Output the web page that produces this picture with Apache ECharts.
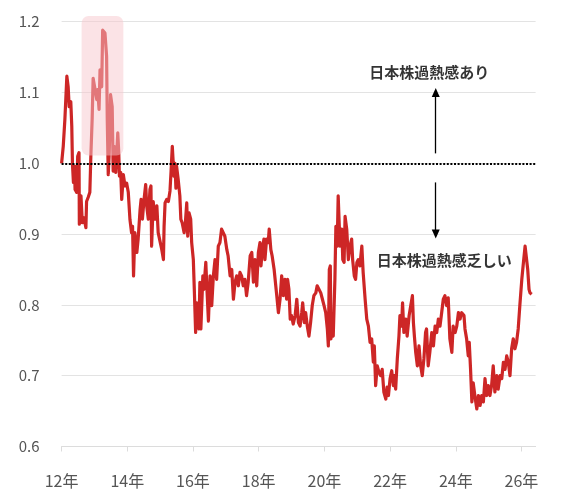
<!DOCTYPE html>
<html>
<head>
<meta charset="utf-8">
<script src="https://cdn.jsdelivr.net/npm/echarts@6/dist/echarts.min.js"></script>
<style>html,body{margin:0;padding:0;background:#fff}#c{width:562px;height:495px}</style>
</head>
<body>
<div id="c"></div>
<script>
// decimal year positions of observations
const years = [
2012.00,2012.05,2012.10,2012.16,2012.20,2012.23,2012.28,2012.31,2012.33,2012.36,2012.39,2012.41,2012.46,2012.49,2012.53,2012.54,2012.59,2012.63,2012.68,2012.71,2012.74,2012.76,2012.81,2012.86,2012.89,2012.93,2012.96,
2013.02,2013.07,2013.10,2013.14,2013.17,2013.22,2013.25,2013.32,2013.37,2013.39,2013.42,2013.45,2013.49,2013.54,2013.57,2013.60,2013.65,2013.71,2013.74,2013.76,2013.80,2013.83,2013.88,2013.93,2013.98,
2014.03,2014.08,2014.13,2014.16,2014.19,2014.23,2014.29,2014.33,2014.39,2014.42,2014.46,2014.51,2014.56,2014.59,2014.64,2014.69,2014.72,2014.74,2014.79,2014.84,2014.90,2014.94,
2015.00,2015.05,2015.10,2015.12,2015.15,2015.20,2015.25,2015.30,2015.33,2015.37,2015.40,2015.42,2015.45,2015.48,2015.50,2015.55,2015.60,2015.63,2015.67,2015.73,2015.76,2015.81,2015.84,2015.88,2015.93,2015.96,
2016.01,2016.04,2016.08,2016.11,2016.14,2016.18,2016.21,2016.24,2016.30,2016.33,2016.39,2016.42,2016.47,2016.52,2016.57,2016.62,2016.67,2016.72,2016.77,2016.82,2016.87,2016.92,2016.97,
2017.03,2017.07,2017.13,2017.18,2017.23,2017.28,2017.33,2017.38,2017.43,2017.48,2017.53,2017.58,2017.63,2017.68,2017.74,2017.79,2017.84,2017.89,2017.94,2017.99,
2018.04,2018.07,2018.11,2018.16,2018.19,2018.24,2018.29,2018.32,2018.37,2018.41,2018.47,2018.52,2018.55,2018.60,2018.65,2018.70,2018.75,2018.80,2018.85,2018.88,2018.92,2018.96,
2019.00,2019.05,2019.11,2019.16,2019.21,2019.26,2019.31,2019.34,2019.39,2019.43,2019.48,2019.53,2019.58,2019.63,2019.68,2019.74,2019.78,2019.84,2019.89,2019.94,2019.99,
2020.04,2020.09,2020.12,2020.15,2020.18,2020.20,2020.23,2020.27,2020.32,2020.35,2020.39,2020.42,2020.45,2020.48,2020.53,2020.56,2020.60,2020.63,2020.68,2020.73,2020.78,2020.83,2020.86,2020.91,2020.95,2020.99,
2021.03,2021.08,2021.14,2021.18,2021.24,2021.29,2021.34,2021.39,2021.44,2021.49,2021.52,2021.56,2021.61,2021.66,2021.71,2021.76,2021.81,2021.87,2021.91,2021.95,
2022.00,2022.05,2022.10,2022.13,2022.17,2022.22,2022.27,2022.30,2022.35,2022.38,2022.42,2022.48,2022.52,2022.58,2022.63,2022.68,2022.71,2022.74,2022.78,2022.83,2022.88,2022.93,2022.98,
2023.03,2023.08,2023.11,2023.16,2023.21,2023.27,2023.32,2023.37,2023.42,2023.47,2023.52,2023.57,2023.62,2023.67,2023.72,2023.77,2023.82,2023.88,2023.92,2023.98,
2024.03,2024.08,2024.13,2024.18,2024.25,2024.28,2024.33,2024.38,2024.41,2024.45,2024.49,2024.53,2024.58,2024.64,2024.69,2024.74,2024.79,2024.84,2024.89,2024.94,2024.99,
2025.04,2025.09,2025.14,2025.19,2025.25,2025.29,2025.35,2025.40,2025.45,2025.50,2025.55,2025.60,2025.65,2025.70,2025.75,2025.80,2025.85,2025.90,2025.95,
2026.01,2026.06,2026.11,2026.16,2026.19,2026.23,2026.26,2026.31
];
// ratio values
const ratio = [
1.000,1.024,1.062,1.123,1.108,1.080,1.087,1.052,1.000,0.973,0.996,0.963,0.959,1.010,1.015,0.914,0.954,0.916,0.923,0.921,0.909,0.946,0.952,0.959,1.010,1.062,1.120,
1.104,1.090,1.104,1.076,1.132,1.108,1.188,1.184,1.151,1.062,0.984,1.015,1.097,1.080,0.989,1.024,0.987,1.043,1.015,0.982,0.987,0.949,0.984,0.968,0.972,
0.959,0.921,0.902,0.911,0.841,0.902,0.874,0.893,0.935,0.949,0.921,0.949,0.970,0.940,0.921,0.963,0.968,0.883,0.946,0.921,0.940,0.902,
0.902,0.878,0.864,0.911,0.944,0.949,0.946,0.961,0.987,1.024,1.022,0.982,1.000,0.965,0.996,0.977,0.954,0.921,0.916,0.902,0.911,0.944,0.897,0.930,0.921,0.888,
0.864,0.822,0.761,0.803,0.794,0.766,0.832,0.766,0.841,0.822,0.860,0.827,0.777,0.841,0.799,0.841,0.864,0.836,0.883,0.888,0.907,0.907,0.897,
0.878,0.869,0.841,0.850,0.808,0.832,0.841,0.827,0.846,0.841,0.827,0.836,0.813,0.832,0.869,0.874,0.832,0.864,0.827,0.874,
0.888,0.855,0.878,0.893,0.864,0.893,0.888,0.907,0.878,0.869,0.850,0.850,0.813,0.789,0.808,0.841,0.813,0.836,0.808,0.836,0.822,0.780,
0.785,0.773,0.785,0.808,0.775,0.770,0.789,0.803,0.775,0.789,0.770,0.756,0.775,0.799,0.813,0.817,0.827,0.829,0.817,0.808,0.799,
0.789,0.766,0.742,0.850,0.855,0.752,0.770,0.756,0.836,0.911,0.883,0.954,0.916,0.883,0.907,0.864,0.860,0.925,0.907,0.864,0.883,0.893,0.864,0.841,0.836,0.860,
0.864,0.855,0.883,0.846,0.808,0.780,0.770,0.747,0.752,0.719,0.742,0.686,0.714,0.705,0.700,0.709,0.677,0.667,0.684,0.672,
0.696,0.707,0.686,0.700,0.681,0.724,0.756,0.785,0.770,0.803,0.761,0.780,0.756,0.785,0.799,0.813,0.775,0.756,0.733,0.714,0.742,0.714,0.700,
0.724,0.761,0.766,0.714,0.733,0.761,0.742,0.770,0.761,0.780,0.770,0.789,0.808,0.813,0.799,0.810,0.752,0.733,0.770,0.761,
0.770,0.789,0.780,0.789,0.785,0.766,0.752,0.728,0.747,0.709,0.663,0.690,0.672,0.653,0.672,0.658,0.672,0.663,0.696,0.672,0.686,
0.672,0.686,0.714,0.677,0.700,0.681,0.700,0.696,0.719,0.709,0.728,0.719,0.700,0.738,0.752,0.738,0.747,0.766,0.799,
0.836,0.860,0.883,0.885,0.850,0.822,0.817,0.815
];
const tickYears = [2012, 2014, 2016, 2018, 2020, 2022, 2024, 2026];
const yMin = 0.6, yMax = 1.2, yStep = 0.1;
const xMin = 2012, xMax = 2026.43;
const thresholdValue = 1.0;
const highlightBox = [2012.61, 2013.88, 1.011, 1.208]; // x0, x1, y0, y1
const arrowX = 2023.39;
const upArrow = [1.014, 1.1];
const downArrow = [0.973, 0.9];
const noteTexts = ['日本株過熱感あり', '日本株過熱感乏しい'];
const noteX = [2023.19, 2023.65];
const noteY = [1.1287, 0.8634];

const FONT = '"Noto Sans CJK JP", "Noto Sans", sans-serif';
const chart = echarts.init(document.getElementById('c'), null, {renderer: 'canvas'});
const lineData = years.map((y, i) => [y, ratio[i]]);

chart.setOption({
  animation: false,
  backgroundColor: '#fff',
  grid: {left: 61.6, right: 26.4, top: 21.7, bottom: 48.5},
  xAxis: {
    type: 'value', min: xMin, max: xMax, interval: 2,
    splitLine: {show: false},
    axisLine: {show: true, lineStyle: {color: '#dcdcdc', width: 1}},
    axisTick: {show: true, length: 5, lineStyle: {color: '#dcdcdc'}, customValues: tickYears},
    axisLabel: {
      customValues: tickYears,
      formatter: v => (Math.round(v) % 100) + '年',
      color: '#555', fontSize: 16, fontFamily: FONT, margin: 26
    }
  },
  yAxis: {
    type: 'value', min: yMin, max: yMax, interval: yStep,
    axisLine: {show: false}, axisTick: {show: false},
    splitLine: {lineStyle: {color: '#e3e3e3', width: 1}},
    axisLabel: {formatter: v => v.toFixed(1), color: '#555', fontSize: 15, fontFamily: FONT, margin: 22}
  },
  series: [
    {
      type: 'line', data: lineData, showSymbol: false, silent: true, z: 2,
      lineStyle: {color: '#cd2626', width: 3.2, join: 'round'}
    },
    {
      type: 'line', data: [], silent: true, z: 3,
      markLine: {
        silent: true, symbol: ['none', 'none'], label: {show: false},
        lineStyle: {color: '#000', width: 2, type: [2, 1.6]},
        data: [{yAxis: thresholdValue}]
      }
    },
    {
      type: 'custom', z: 4, silent: true,
      encode: {x: [0, 1], y: [2, 3]},
      data: [highlightBox],
      renderItem: (params, api) => {
        const p0 = api.coord([api.value(0), api.value(3)]);
        const p1 = api.coord([api.value(1), api.value(2)]);
        return {
          type: 'rect',
          shape: {x: p0[0], y: p0[1], width: p1[0] - p0[0], height: p1[1] - p0[1], r: 7},
          style: {fill: 'rgba(247,200,205,0.5)'}
        };
      }
    },
    {
      type: 'scatter', z: 5, silent: true, symbolSize: 0,
      data: noteTexts.map((t, i) => ({name: t, value: [noteX[i], noteY[i]]})),
      label: {
        show: true, position: 'inside', formatter: '{b}',
        color: '#000', fontWeight: 'bold', fontSize: 15, fontFamily: FONT
      },
      markLine: {
        silent: true, symbol: ['none', 'triangle'], symbolSize: [8, 9],
        label: {show: false},
        lineStyle: {color: '#000', width: 1.3, type: 'solid'},
        data: [
          [{coord: [arrowX, upArrow[0]]}, {coord: [arrowX, upArrow[1]]}],
          [{coord: [arrowX, downArrow[0]]}, {coord: [arrowX, downArrow[1]]}]
        ]
      }
    }
  ]
});
</script>
</body>
</html>
